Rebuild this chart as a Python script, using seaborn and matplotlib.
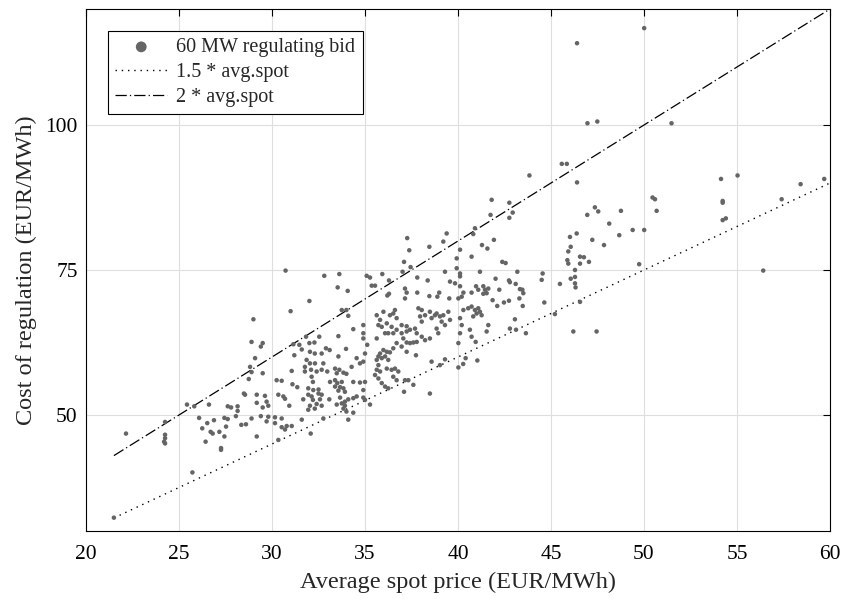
import numpy as np
import pandas as pd
import matplotlib
matplotlib.use("Agg")
import matplotlib.pyplot as plt
import seaborn as sns

# ---- data (EUR/MWh) ----
spot_left = [21.5, 22.15, 24.25, 24.25, 24.25, 24.2, 24.25, 25.72, 25.43, 25.82, 26.61, 26.08,
             26.52, 26.25, 26.88, 26.43, 26.7, 26.81, 27.17, 27.26, 27.26, 27.44, 27.53, 27.44,
             27.62, 27.62, 27.8, 28.15, 28.15, 28.06, 28.35, 28.6, 28.49, 28.55, 28.75]
cost_left = [32.3, 46.8, 48.8, 46.6, 46.0, 45.4, 45.1, 40.1, 51.8, 51.5, 51.8, 49.5,
             48.6, 47.7, 49.1, 45.4, 47.1, 46.8, 47.1, 44.3, 44.0, 46.3, 48.0, 49.5,
             49.3, 51.5, 51.3, 51.5, 50.7, 49.8, 48.3, 48.4, 53.7, 53.5, 56.2]

spot_mid = [29.0, 31.0, 32.01, 33.75, 34.0, 34.1, 34.91, 34.91, 34.91, 34.37, 33.57, 32.54,
            31.83, 32.28, 32.01, 31.15, 31.47, 28.9, 29.5, 29.4, 29.09, 28.82, 28.9, 29.5,
            31.06, 31.2, 31.6, 32.04, 32.3, 32.67, 32.9, 33.1, 33.98, 33.57, 34.55, 34.73,
            34.91, 31.86, 32.04, 31.77, 32.31, 32.76, 31.77, 32.1, 32.4, 32.67, 32.97, 33.39,
            33.62, 33.48, 33.84, 34.0, 34.28, 32.13, 32.2, 30.25, 30.52, 31.1, 31.36, 33.12,
            33.39, 33.51, 33.75, 34.37, 34.73, 35.0, 31.95, 32.22, 32.5, 33.39, 33.66, 33.84,
            33.92, 33.57, 34.91, 29.18, 29.62, 30.34, 30.61, 30.7, 31.95, 32.13, 32.5, 32.67,
            32.58, 31.68, 32.2, 33.08, 33.66, 33.92, 33.75, 34.1, 34.37, 34.55, 34.91, 35.0,
            35.27, 29.18, 29.71, 29.5, 29.8, 30.93, 32.04, 32.4, 32.67, 33.48, 33.92, 33.84,
            31.95, 32.3, 34.0, 34.37, 28.9, 29.4, 29.8, 30.16, 30.52, 31.6, 32.76, 34.1,
            29.71, 30.16, 30.52, 30.7, 30.79, 31.06, 32.08, 29.18, 30.34]
cost_mid = [66.5, 67.9, 69.66, 68.1, 68.1, 67.1, 65.5, 64.1, 63.2, 64.8, 63.6, 63.5,
            63.5, 62.5, 62.4, 62.2, 62.1, 62.6, 62.4, 61.8, 59.8, 58.3, 57.4, 57.2,
            57.6, 60.3, 61.3, 60.9, 60.6, 60.6, 61.5, 61.2, 61.4, 60.1, 59.8, 58.9,
            59.2, 59.5, 58.9, 58.3, 58.9, 58.9, 57.5, 57.8, 57.5, 57.8, 57.5, 58.0,
            57.8, 57.2, 57.3, 57.1, 58.3, 56.6, 55.7, 56.0, 55.9, 55.3, 54.8, 55.7,
            56.0, 55.5, 55.7, 55.7, 55.6, 55.7, 54.6, 54.3, 54.4, 54.9, 54.8, 54.6,
            54.0, 54.2, 54.3, 53.5, 53.3, 53.5, 53.2, 52.8, 53.5, 53.2, 53.7, 53.5,
            52.7, 52.7, 52.6, 52.7, 53.0, 52.3, 52.0, 52.7, 52.9, 53.2, 53.0, 52.6,
            51.8, 52.1, 52.3, 51.3, 51.6, 51.6, 51.6, 51.9, 51.6, 51.8, 51.6, 51.1,
            50.9, 51.1, 50.6, 50.4, 49.4, 49.8, 49.7, 49.6, 49.4, 49.2, 49.4, 49.2,
            48.9, 48.6, 47.9, 47.5, 48.1, 48.1, 46.8, 46.3, 45.7]

spot_core = [35.63, 35.99, 35.81, 35.72, 35.9, 36.17, 36.34, 36.52, 36.61, 36.7, 36.43, 36.7,
             36.97, 37.24, 37.24, 37.42, 37.69, 37.78, 37.87, 38.05, 37.96, 38.05, 38.23, 38.49,
             38.58, 38.76, 38.85, 39.03, 39.21, 39.12, 39.3, 39.48, 39.57, 38.85, 38.94, 38.49,
             38.23, 38.05, 37.78, 37.6, 37.24, 37.06, 36.7, 36.52, 36.34, 36.17, 35.99, 35.81,
             35.72, 35.63, 35.72, 35.9, 36.08, 36.25, 35.63, 35.81, 35.54, 35.72, 35.9, 36.08,
             36.25, 36.17, 36.43, 36.61, 36.79, 36.52, 36.7, 37.15, 37.33, 37.6, 37.1, 38.49,
             38.58, 39.03, 39.3, 37.74, 37.24, 36.97, 37.42, 36.08, 36.25, 36.52, 36.97, 35.63,
             35.12, 35.0]
cost_core = [67.2, 67.8, 66.4, 65.5, 65.2, 65.8, 67.2, 67.5, 68.1, 66.7, 65.2, 64.7,
             65.5, 65.3, 64.4, 64.7, 64.9, 64.1, 68.4, 68.1, 67.0, 66.1, 67.2, 67.8,
             66.7, 67.2, 67.5, 67.0, 67.2, 66.1, 65.5, 67.8, 66.4, 64.9, 64.1, 63.2,
             62.9, 63.5, 62.6, 62.5, 62.5, 63.2, 62.4, 61.5, 60.8, 60.9, 61.2, 60.6,
             60.1, 59.5, 58.6, 59.8, 60.1, 59.5, 57.8, 57.5, 56.9, 56.3, 55.5, 54.9,
             54.6, 58.0, 57.8, 58.0, 57.5, 56.6, 56.0, 56.0, 56.0, 55.2, 54.0, 53.7,
             59.2, 58.6, 59.6, 60.3, 60.9, 61.8, 62.4, 64.1, 64.1, 64.1, 64.1, 63.2,
             62.1, 60.6]

spot_upper = [30.73, 32.81, 33.62, 33.53, 34.07, 35.09, 35.27, 35.36, 35.54, 35.93, 36.29, 36.2,
              36.29]
cost_upper = [74.9, 74.0, 74.3, 72.0, 71.4, 74.0, 73.7, 72.3, 72.3, 74.3, 73.2, 70.6,
              70.9]

spot_right = [41.81, 42.76, 42.94, 42.76, 41.75, 40.91, 40.82, 39.39, 39.21, 38.46, 37.27, 37.38,
              37.1, 37.45, 37.02, 41.29, 41.58, 41.93, 40.11, 40.73, 42.38, 42.56, 39.93, 39.3,
              39.93, 40.11, 40.11, 41.18, 43.19, 44.55, 44.5, 45.48, 42.02, 42.74, 42.79, 43.1,
              43.33, 43.46, 43.51, 43.3, 37.81, 38.37, 39.57, 39.84, 40.11, 37.15, 37.24, 37.15,
              37.81, 38.46, 38.99, 38.89, 39.53, 40.02, 40.2, 40.29, 40.73, 40.97, 41.09, 41.36,
              41.45, 41.54, 41.63, 41.36, 41.86, 42.11, 42.22, 42.47, 42.74, 43.48, 44.64, 40.29,
              40.55, 40.73, 40.91, 41.09, 41.18, 41.0, 41.27, 40.82, 40.11, 40.2, 40.11, 40.02,
              41.63, 41.54, 40.64, 40.73, 43.06, 43.12, 43.65, 42.79, 45.21, 46.2, 47.45, 46.02,
              46.38, 46.06, 45.93, 45.88, 45.93, 46.56, 46.77, 46.56, 47.04, 46.29, 46.29, 46.06,
              46.29, 46.32, 46.95, 47.22, 47.36, 47.54, 46.56,
              40.95, 40.41, 40.28, 40.02, 41.04]
cost_right = [87.1, 86.6, 84.9, 84.0, 84.5, 82.2, 81.2, 81.3, 79.9, 79.0, 80.5, 78.4,
              76.4, 75.5, 74.7, 79.3, 78.7, 80.2, 78.5, 77.3, 76.4, 76.2, 77.0, 74.7,
              75.3, 74.4, 73.9, 74.7, 74.7, 74.4, 73.3, 72.6, 73.5, 73.2, 72.9, 72.6,
              71.7, 71.6, 71.0, 70.1, 73.7, 73.2, 73.0, 72.7, 72.2, 71.8, 71.1, 70.1,
              71.1, 70.5, 71.1, 70.4, 70.1, 70.1, 70.4, 71.1, 71.1, 72.2, 71.6, 72.2,
              71.6, 71.0, 71.8, 70.9, 69.8, 68.8, 71.6, 69.4, 69.7, 68.8, 69.4, 68.1,
              68.4, 68.7, 68.1, 68.4, 67.8, 67.5, 67.2, 67.0, 66.7, 65.5, 64.1, 62.4,
              65.5, 64.4, 64.7, 63.5, 66.5, 64.7, 64.1, 64.9, 67.4, 64.4, 64.4, 80.7,
              81.3, 79.0, 78.2, 76.7, 76.1, 77.3, 77.2, 76.1, 76.4, 75.0, 73.8, 73.5,
              72.7, 72.0, 84.5, 80.2, 85.8, 85.1, 69.5,
              62.6, 59.8, 58.8, 58.2, 59.4]

spot_far = [46.4, 46.96, 47.49, 45.58, 45.85, 43.84, 46.4, 50.01, 51.48, 48.76, 48.13, 47.85,
            48.67, 49.39, 50.01, 49.74, 50.46, 50.59, 50.68, 54.14, 55.03, 54.23, 54.23, 54.23,
            54.4, 56.41, 57.4, 58.42, 59.69]
cost_far = [114.1, 100.3, 100.6, 93.3, 93.3, 91.3, 90.1, 116.7, 100.3, 85.2, 83.0, 79.3,
            81.0, 81.9, 81.9, 76.0, 87.5, 87.2, 85.2, 90.7, 91.3, 86.9, 86.6, 83.6,
            83.9, 74.9, 87.2, 89.8, 90.7]

line_spot = [21.5, 60.0]
line_factors = [1.5, 2.0]
labels = ["60 MW regulating bid", "1.5 * avg.spot", "2 * avg.spot"]
x_ticks = [20, 25, 30, 35, 40, 45, 50, 55, 60]
y_ticks = [50, 75, 100]

spot = spot_left + spot_mid + spot_core + spot_upper + spot_right + spot_far
cost = cost_left + cost_mid + cost_core + cost_upper + cost_right + cost_far
df = pd.DataFrame({"spot": spot, "cost": cost})

sns.set_style("white")
plt.rcParams["font.family"] = ["Liberation Serif", "DejaVu Serif"]

W, H = 845, 599
fig = plt.figure(figsize=(W / 100, H / 100), dpi=100)
ax = fig.add_axes([86 / W, 1 - 531 / H, (830 - 86) / W, (531 - 9) / H])

sns.scatterplot(data=df, x="spot", y="cost", ax=ax, color="#656565", s=10.5,
                edgecolor="none", linewidth=0, label=labels[0], zorder=3)
lx = np.array(line_spot)
sns.lineplot(x=lx, y=line_factors[0] * lx, ax=ax, color="black", linewidth=1.0,
             linestyle=(0, (1, 3.5)), label=labels[1], zorder=2)
sns.lineplot(x=lx, y=line_factors[1] * lx, ax=ax, color="black", linewidth=0.9,
             linestyle=(0, (9, 2.5, 1, 2.5)), label=labels[2], zorder=2)

ax.set_xlim(20, 60)
ax.set_ylim(30, 120)
ax.set_xticks(x_ticks)
ax.set_yticks(y_ticks)
ax.grid(True, color="#dedede", linewidth=0.8)
ax.set_axisbelow(True)
for sp in ax.spines.values():
    sp.set_color("black")
    sp.set_linewidth(0.8)
ax.tick_params(direction="in", top=True, right=True, length=5, width=0.8,
               labelsize=15.5, colors="black")
ax.tick_params(axis="x", pad=10)
ax.tick_params(axis="y", pad=6)
ax.set_xlabel("Average spot price (EUR/MWh)", fontsize=17.5, labelpad=6)
ax.set_ylabel("Cost of regulation (EUR/MWh)", fontsize=17.5, labelpad=6)

leg = ax.legend(loc="upper left", bbox_to_anchor=((108 - 86) / 744, (531 - 31) / 522),
                borderaxespad=0, frameon=True, fancybox=False, edgecolor="black",
                framealpha=1, fontsize=14.5, markerscale=2.4, handlelength=2.6,
                handletextpad=0.45, borderpad=0.35, labelspacing=0.3)
leg.get_frame().set_linewidth(0.8)

fig.savefig("out.png", dpi=100)
